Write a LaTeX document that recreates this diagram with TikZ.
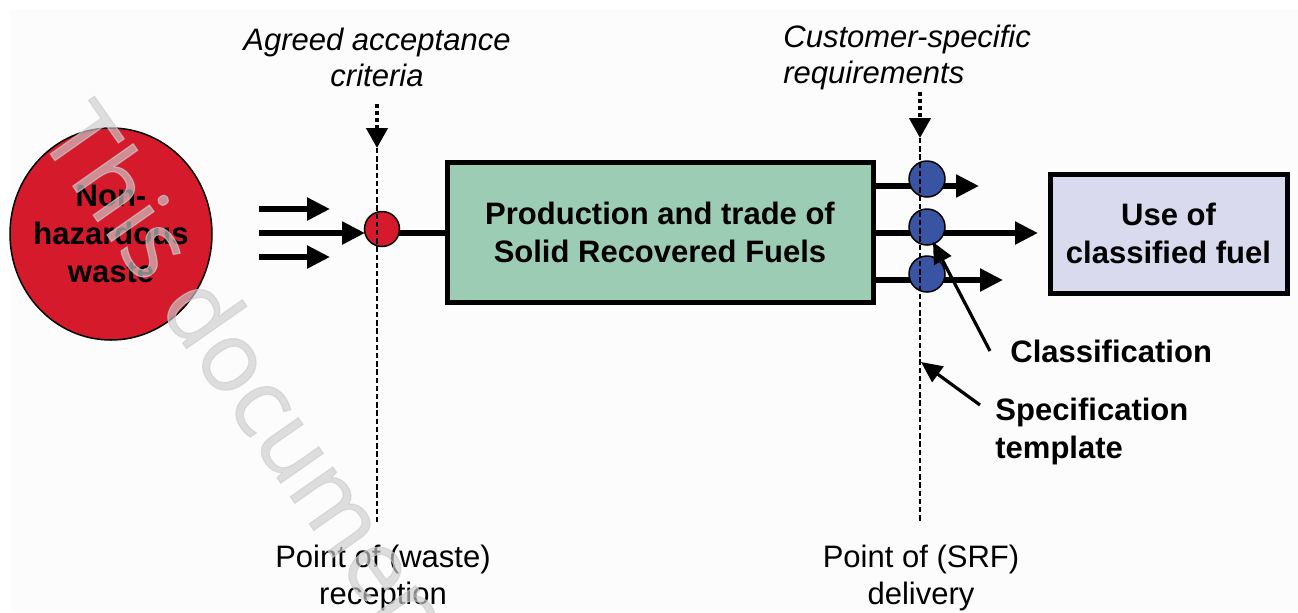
\documentclass[tikz,border=0pt]{standalone}
\usepackage{fontspec}
\setmainfont{Liberation Sans}
\newfontfamily\wmfont[FakeBold=1.2]{Open Sans}
\usetikzlibrary{arrows.meta,shapes.geometric}
\definecolor{wasteRed}{RGB}{213,27,43}
\definecolor{srfGreen}{RGB}{156,204,180}
\definecolor{useLav}{RGB}{218,218,238}
\definecolor{dotBlue}{RGB}{58,84,164}
\definecolor{bgGrey}{RGB}{252,252,252}
\definecolor{wmGrey}{RGB}{205,205,205}
\begin{document}
\begin{tikzpicture}[x=0.5pt,y=-0.5pt,
  every node/.style={inner sep=0pt, font=\fontsize{15.5}{18.6}\selectfont},
  boldlbl/.style={font=\fontsize{15.5}{19}\selectfont\bfseries},
  itlbl/.style={font=\fontsize{15.5}{18}\selectfont\itshape},
  flow/.style={line width=2.7pt, -{Triangle[length=11.5pt,width=11pt]}},
  plainflow/.style={line width=2.7pt},
  dotarrow/.style={line width=2.2pt, dash pattern=on 2pt off 1.5pt, -{Triangle[length=10pt,width=10.5pt]}},
  dashline/.style={line width=0.75pt, dash pattern=on 2.7pt off 1.4pt},
  pointer/.style={line width=1.6pt, -{Triangle[length=10.5pt,width=9.5pt]}},
  procbox/.style={draw, line width=2.5pt, align=center, boldlbl},
  dot/.style={circle, draw, line width=0.75pt, minimum size=17.5pt}
]
% background
\fill[white] (0,0) rectangle (1298,612);
\fill[bgGrey] (10,9) rectangle (1298,612);
\useasboundingbox (0,0) rectangle (1298,612);

% main nodes
\node[ellipse, draw, line width=0.75pt, fill=wasteRed, minimum width=101pt, minimum height=106pt] (waste) at (111,234) {};
\node[boldlbl, align=center] (wasteTxt) at (waste.center) {Non-\\hazardous\\waste};
\node[procbox, fill=srfGreen, minimum width=213pt, minimum height=70pt] (srf) at (660,232) {Production and trade of\\Solid Recovered Fuels};
\node[procbox, fill=useLav, minimum width=118.5pt, minimum height=59.5pt] (use) at (1168.5,233.5) {Use of\\classified fuel};

% coordinates
\coordinate (rcC) at (382,229);
\coordinate (bc1) at (927,179);
\coordinate (bc2) at (927,227);
\coordinate (bc3) at (927,274);
\coordinate (a1s) at (259,209); \coordinate (a1e) at (330,209);
\coordinate (a2s) at (259,233); \coordinate (a2e) at (365,233);
\coordinate (a3s) at (259,257); \coordinate (a3e) at (330,257);
\coordinate (rcL) at (382,233);
\coordinate (o1) at (979,186);
\coordinate (o2) at (1038,233);
\coordinate (o3) at (1003,280);

% input arrows
\draw[flow] (a1s) -- (a1e);
\draw[flow] (a2s) -- (a2e);
\draw[flow] (a3s) -- (a3e);
\draw[plainflow] (rcL) -- (rcL -| srf.west);

% output arrows
\draw[flow] (o1 -| srf.east) -- (o1);
\draw[flow] (o2 -| srf.east) -- (o2);
\draw[flow] (o3 -| srf.east) -- (o3);

% circles
\node[dot, fill=wasteRed] (rc) at (rcC) {};
\node[dot, fill=dotBlue, minimum size=18pt] (b1) at (bc1) {};
\node[dot, fill=dotBlue, minimum size=18pt] (b2) at (bc2) {};
\node[dot, fill=dotBlue, minimum size=18pt] (b3) at (bc3) {};

% labels
\node[itlbl, align=center] (agreed) at (377,57) {Agreed acceptance\\criteria};
\node[itlbl, align=left, anchor=west] (cust) at (783,57) {Customer-specific\\requirements};
\node[align=center] (recep) at (383,578) {Point of (waste)\\reception};
\node[align=center] (deliv) at (921,578) {Point of (SRF)\\delivery};
\node[boldlbl, anchor=west] (cls) at (1010,351) {Classification};
\node[boldlbl, align=left, anchor=north west] (spec) at (995,397.5) {Specification\\template};

% vertical reference lines
\coordinate (v1top) at (377,104); \coordinate (v1tip) at (377,148); \coordinate (v1bot) at (377,525);
\coordinate (v2top) at (920,92);  \coordinate (v2tip) at (920,138); \coordinate (v2bot) at (920,522);
\draw[dotarrow] (v1top) -- (v1tip);
\draw[dashline] (v1tip) -- (v1bot);
\draw[dotarrow] (v2top) -- (v2tip);
\draw[dashline] (v2tip) -- (v2bot);

% pointers
\coordinate (clsTip) at (933,242);
\coordinate (specTip) at (921,362);
\draw[pointer] ([xshift=-10pt]cls.west) -- (clsTip);
\draw[pointer] ([xshift=-7.5pt,yshift=-3.75pt]spec.north west) -- (specTip);

% watermark
\begin{scope}
\clip (0,0) rectangle (1298,612);
\node[rotate=-55, anchor=base west, text=wmGrey, text opacity=0.65, font=\fontsize{48.5}{50}\selectfont\wmfont] (wm) at (37,135) {This document};
\end{scope}
\end{tikzpicture}
\end{document}
